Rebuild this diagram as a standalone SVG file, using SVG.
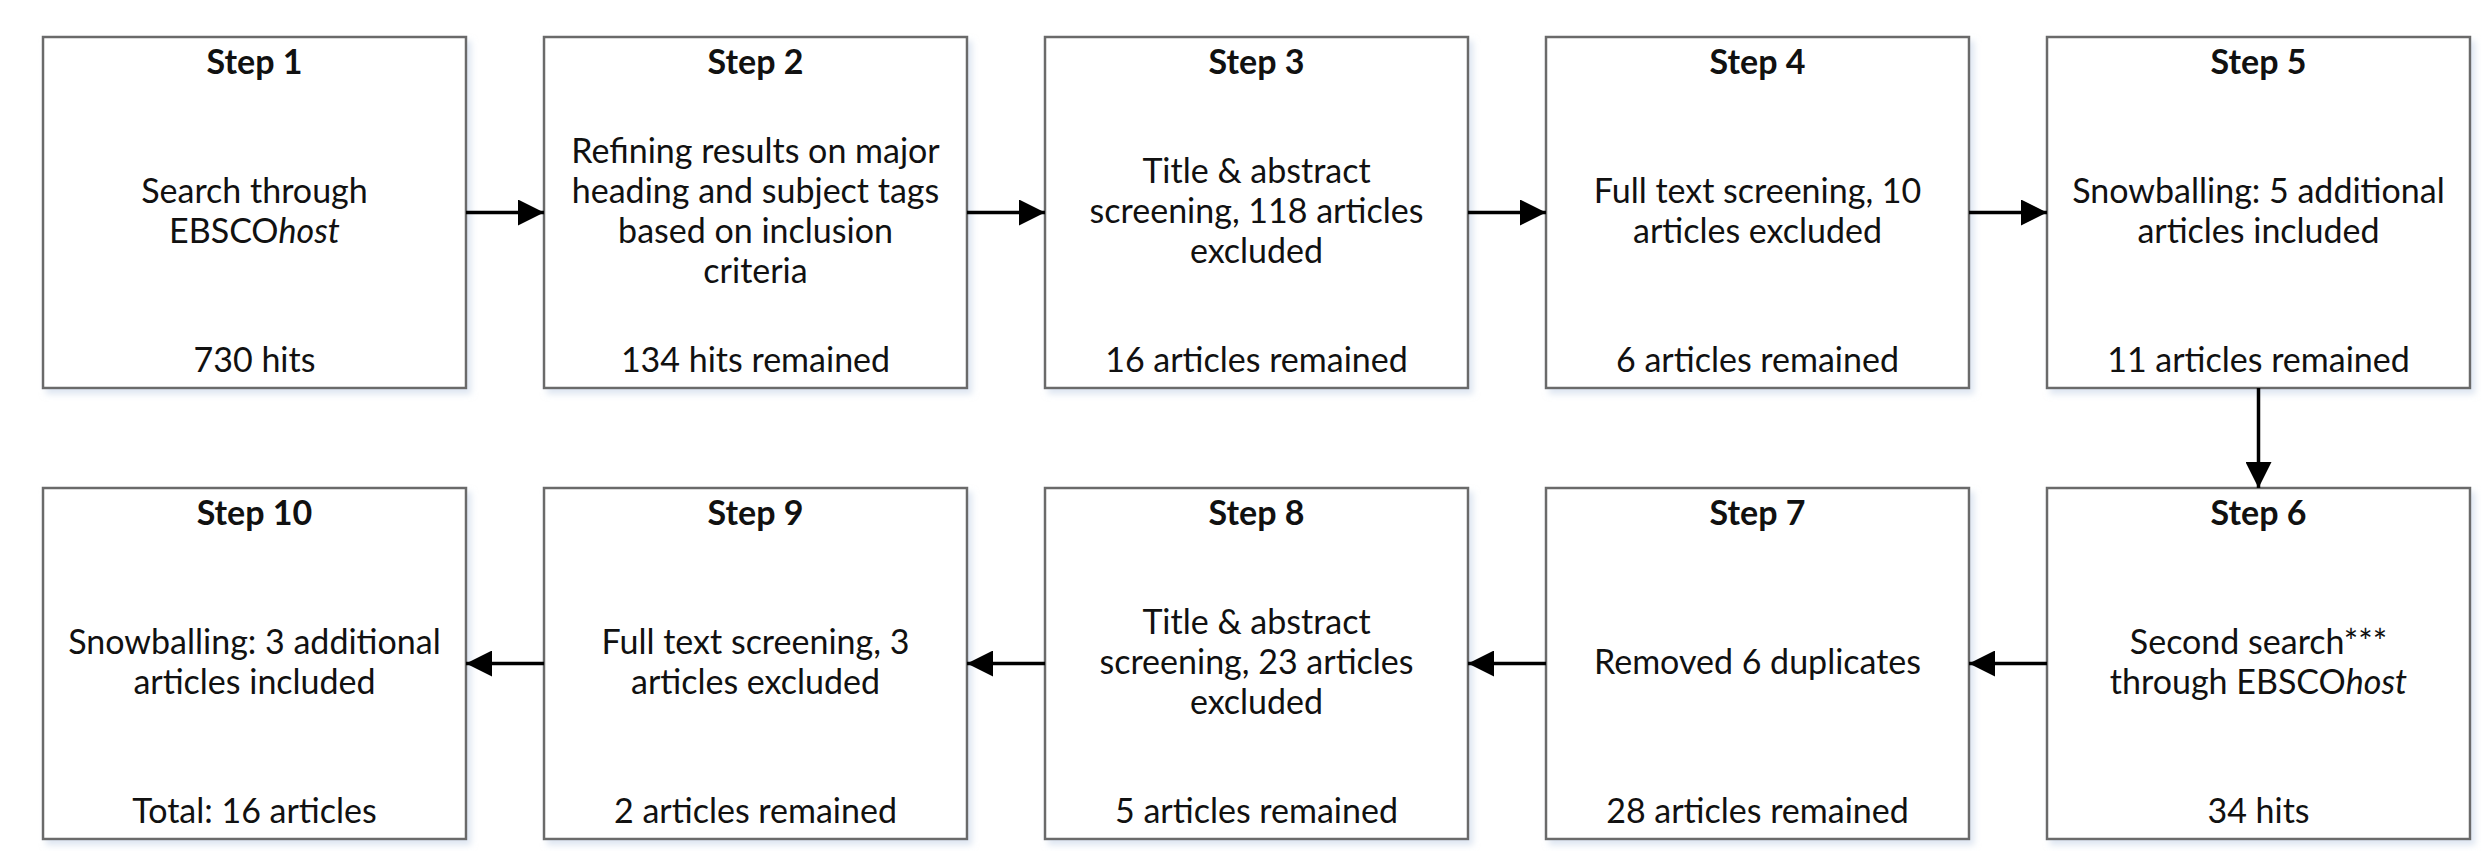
<svg xmlns="http://www.w3.org/2000/svg" width="2481" height="851" viewBox="0 0 2481 851">
<defs>
<style>
.box{fill:#ffffff;stroke:#6b6b6b;stroke-width:2.5;filter:url(#sh)}
text{font-family:Lato,"Liberation Sans",sans-serif;font-size:34px;fill:#111;text-anchor:middle}
.t{font-weight:bold}
.c{stroke:#000;stroke-width:3.5;fill:none}
</style>
<filter id="sh" x="-5%" y="-5%" width="115%" height="115%">
<feDropShadow dx="4" dy="5" stdDeviation="3" flood-color="#c9d6e8" flood-opacity="0.6"/>
</filter>
<marker id="a" viewBox="0 0 26 26" refX="26" refY="13" markerWidth="26" markerHeight="26" markerUnits="userSpaceOnUse" orient="auto">
<path d="M0,0 L26,13 L0,26 Z" fill="#000"/>
</marker>
</defs>
<rect width="2481" height="851" fill="#ffffff"/>
<g id="step1">
<rect class="box" x="43" y="37" width="423" height="351"/>
<text class="t" x="254.5" y="74">Step 1</text>
<text x="254.5" y="203">Search through</text>
<text x="254.5" y="243">EBSCO<tspan font-style="italic">host</tspan></text>
<text x="254.5" y="372">730 hits</text>
</g>
<g id="step2">
<rect class="box" x="544" y="37" width="423" height="351"/>
<text class="t" x="755.5" y="74">Step 2</text>
<text x="755.5" y="163">Refining results on major</text>
<text x="755.5" y="203">heading and subject tags</text>
<text x="755.5" y="243">based on inclusion</text>
<text x="755.5" y="283">criteria</text>
<text x="755.5" y="372">134 hits remained</text>
</g>
<g id="step3">
<rect class="box" x="1045" y="37" width="423" height="351"/>
<text class="t" x="1256.5" y="74">Step 3</text>
<text x="1256.5" y="183">Title &amp; abstract</text>
<text x="1256.5" y="223">screening, 118 articles</text>
<text x="1256.5" y="263">excluded</text>
<text x="1256.5" y="372">16 articles remained</text>
</g>
<g id="step4">
<rect class="box" x="1546" y="37" width="423" height="351"/>
<text class="t" x="1757.5" y="74">Step 4</text>
<text x="1757.5" y="203">Full text screening, 10</text>
<text x="1757.5" y="243">articles excluded</text>
<text x="1757.5" y="372">6 articles remained</text>
</g>
<g id="step5">
<rect class="box" x="2047" y="37" width="423" height="351"/>
<text class="t" x="2258.5" y="74">Step 5</text>
<text x="2258.5" y="203">Snowballing: 5 additional</text>
<text x="2258.5" y="243">articles included</text>
<text x="2258.5" y="372">11 articles remained</text>
</g>
<g id="step6">
<rect class="box" x="2047" y="488" width="423" height="351"/>
<text class="t" x="2258.5" y="525">Step 6</text>
<text x="2258.5" y="654">Second search***</text>
<text x="2258.5" y="694">through EBSCO<tspan font-style="italic">host</tspan></text>
<text x="2258.5" y="823">34 hits</text>
</g>
<g id="step7">
<rect class="box" x="1546" y="488" width="423" height="351"/>
<text class="t" x="1757.5" y="525">Step 7</text>
<text x="1757.5" y="674">Removed 6 duplicates</text>
<text x="1757.5" y="823">28 articles remained</text>
</g>
<g id="step8">
<rect class="box" x="1045" y="488" width="423" height="351"/>
<text class="t" x="1256.5" y="525">Step 8</text>
<text x="1256.5" y="634">Title &amp; abstract</text>
<text x="1256.5" y="674">screening, 23 articles</text>
<text x="1256.5" y="714">excluded</text>
<text x="1256.5" y="823">5 articles remained</text>
</g>
<g id="step9">
<rect class="box" x="544" y="488" width="423" height="351"/>
<text class="t" x="755.5" y="525">Step 9</text>
<text x="755.5" y="654">Full text screening, 3</text>
<text x="755.5" y="694">articles excluded</text>
<text x="755.5" y="823">2 articles remained</text>
</g>
<g id="step10">
<rect class="box" x="43" y="488" width="423" height="351"/>
<text class="t" x="254.5" y="525">Step 10</text>
<text x="254.5" y="654">Snowballing: 3 additional</text>
<text x="254.5" y="694">articles included</text>
<text x="254.5" y="823">Total: 16 articles</text>
</g>
<g id="connectors">
<line class="c" x1="466" y1="212.5" x2="544" y2="212.5" marker-end="url(#a)"/>
<line class="c" x1="967" y1="212.5" x2="1045" y2="212.5" marker-end="url(#a)"/>
<line class="c" x1="1468" y1="212.5" x2="1546" y2="212.5" marker-end="url(#a)"/>
<line class="c" x1="1969" y1="212.5" x2="2047" y2="212.5" marker-end="url(#a)"/>
<line class="c" x1="2258.5" y1="388" x2="2258.5" y2="488" marker-end="url(#a)"/>
<line class="c" x1="2047" y1="663.5" x2="1969" y2="663.5" marker-end="url(#a)"/>
<line class="c" x1="1546" y1="663.5" x2="1468" y2="663.5" marker-end="url(#a)"/>
<line class="c" x1="1045" y1="663.5" x2="967" y2="663.5" marker-end="url(#a)"/>
<line class="c" x1="544" y1="663.5" x2="466" y2="663.5" marker-end="url(#a)"/>
</g>
</svg>
